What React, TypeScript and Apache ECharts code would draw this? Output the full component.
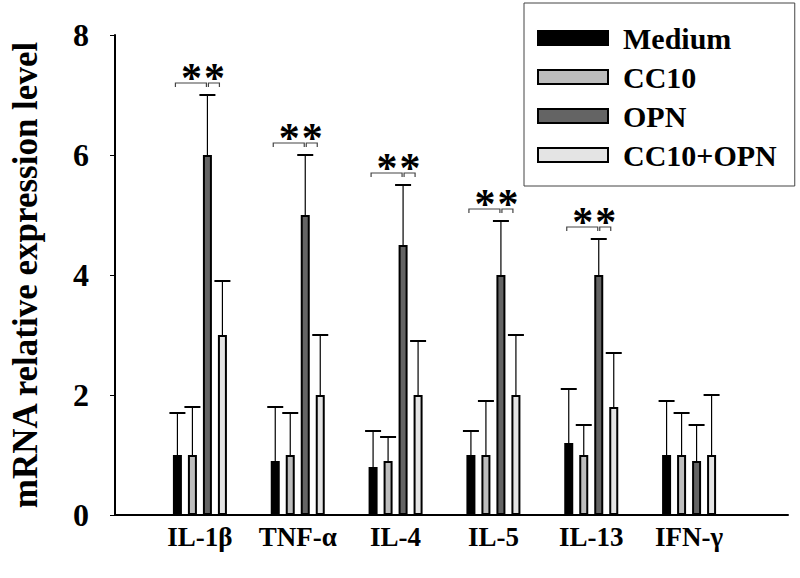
import React, { useEffect, useRef } from "react";
import * as echarts from "echarts";

const categories = ["IL-1β", "TNF-α", "IL-4", "IL-5", "IL-13", "IFN-γ"];
const seriesNames = ["Medium", "CC10", "OPN", "CC10+OPN"];
const seriesColors = ["#000000", "#bdbdbd", "#646464", "#e4e4e4"];

const medium = [1.0, 0.9, 0.8, 1.0, 1.2, 1.0];
const mediumErr = [1.7, 1.8, 1.4, 1.4, 2.1, 1.9];
const cc10 = [1.0, 1.0, 0.9, 1.0, 1.0, 1.0];
const cc10Err = [1.8, 1.7, 1.3, 1.9, 1.5, 1.7];
const opn = [6.0, 5.0, 4.5, 4.0, 4.0, 0.9];
const opnErr = [7.0, 6.0, 5.5, 4.9, 4.6, 1.5];
const combo = [3.0, 2.0, 2.0, 2.0, 1.8, 1.0];
const comboErr = [3.9, 3.0, 2.9, 3.0, 2.7, 2.0];

// significance bracket heights (value units) per category; null = none
const sigLevel: (number | null)[] = [7.2, 6.2, 5.7, 5.1, 4.8, null];

const yMin = 0;
const yMax = 8;
const yInterval = 2;

const BAR_W = 9;
const PITCH = 15;
const offsetOf = (s: number) => (s - 1.5) * PITCH;

const FONT = "'Liberation Serif', 'Times New Roman', serif";

export default function App() {
  const ref = useRef<HTMLDivElement>(null);

  useEffect(() => {
    if (!ref.current) return;
    const chart = echarts.init(ref.current, undefined, { renderer: "svg" });

    const values = [medium, cc10, opn, combo];
    const errs = [mediumErr, cc10Err, opnErr, comboErr];

    const errData: number[][] = [];
    values.forEach((arr, s) => {
      arr.forEach((v, i) => errData.push([i, v, errs[s][i], s]));
    });

    const sigData: number[][] = [];
    sigLevel.forEach((lv, i) => {
      if (lv !== null) sigData.push([i, lv]);
    });

    const barSeries = seriesNames.map((name, s) => ({
      name,
      type: "bar",
      xAxisIndex: 1,
      yAxisIndex: 1,
      data: values[s],
      barWidth: BAR_W,
      barGap: "66.67%",
      z: 3,
      itemStyle: {
        color: seriesColors[s],
        borderColor: "#000",
        borderWidth: 2,
      },
    }));

    const starStyle = {
      text: "*",
      fontFamily: FONT,
      fontWeight: "bold",
      fontSize: 42,
      fill: "#000",
      align: "center",
      verticalAlign: "middle",
    };

    const option: any = {
      animation: false,
      backgroundColor: "#fff",
      grid: [
        { left: 104, right: 12, top: 35, bottom: 63 },
        { left: 151, right: 62, top: 35, bottom: 63 },
      ],
      legend: {
        data: seriesNames,
        orient: "vertical",
        left: 524,
        top: 3,
        icon: "rect",
        itemWidth: 70,
        itemHeight: 14,
        itemGap: 9,
        padding: [20, 18, 16, 13],
        backgroundColor: "#fff",
        borderColor: "#444",
        borderWidth: 1,
        borderRadius: 0,
        textStyle: {
          fontFamily: FONT,
          fontWeight: "bold",
          fontSize: 30,
          lineHeight: 28,
          color: "#000",
          padding: [0, 0, 0, 10],
        },
      },
      xAxis: [
        {
          type: "category",
          gridIndex: 0,
          data: [""],
          axisLine: { show: true, lineStyle: { color: "#000", width: 2 } },
          axisTick: { show: false },
          axisLabel: { show: false },
        },
        {
          type: "category",
          gridIndex: 1,
          data: categories,
          axisLine: { show: false },
          axisTick: { show: false },
          axisLabel: {
            interval: 0,
            hideOverlap: false,
            margin: 8,
            fontFamily: FONT,
            fontWeight: "bold",
            fontSize: 27,
            color: "#000",
          },
        },
      ],
      yAxis: [
        {
          type: "value",
          gridIndex: 0,
          min: yMin,
          max: yMax,
          interval: yInterval,
          name: "mRNA relative expression level",
          nameLocation: "middle",
          nameRotate: 90,
          nameGap: 72,
          nameTextStyle: {
            fontFamily: FONT,
            fontWeight: "bold",
            fontSize: 35,
            color: "#000",
          },
          axisLine: { show: true, lineStyle: { color: "#000", width: 2 } },
          axisTick: { show: true, length: 5, lineStyle: { color: "#000", width: 1 } },
          splitLine: { show: false },
          axisLabel: {
            margin: 26,
            fontFamily: FONT,
            fontWeight: "bold",
            fontSize: 32,
            color: "#000",
          },
        },
        {
          type: "value",
          gridIndex: 1,
          min: yMin,
          max: yMax,
          interval: yInterval,
          show: false,
          splitLine: { show: false },
        },
      ],
      series: [
        ...barSeries,
        {
          type: "custom",
          xAxisIndex: 1,
          yAxisIndex: 1,
          z: 2,
          silent: true,
          data: errData,
          renderItem: (params: any, api: any) => {
            const i = api.value(0);
            const s = api.value(3);
            const base = api.coord([i, api.value(1)]);
            const top = api.coord([i, api.value(2)]);
            const x = base[0] + offsetOf(s);
            return {
              type: "group",
              children: [
                {
                  type: "line",
                  shape: { x1: x, y1: base[1], x2: x, y2: top[1] },
                  style: { stroke: "#000", lineWidth: 1.2 },
                },
                {
                  type: "line",
                  shape: { x1: x - 8, y1: top[1], x2: x + 8, y2: top[1] },
                  style: { stroke: "#000", lineWidth: 2 },
                },
              ],
            };
          },
        },
        {
          type: "custom",
          xAxisIndex: 1,
          yAxisIndex: 1,
          z: 4,
          silent: true,
          data: sigData,
          renderItem: (params: any, api: any) => {
            const c = api.coord([api.value(0), api.value(1)]);
            const y = c[1];
            const x0 = c[0] + offsetOf(0) - 2;
            const xm = c[0] + offsetOf(2);
            const x3 = c[0] + offsetOf(3) - 3;
            const stroke = { stroke: "#444", lineWidth: 1.2, fill: null };
            return {
              type: "group",
              children: [
                {
                  type: "polyline",
                  shape: { points: [[x0, y + 4], [x0, y], [xm - 1, y], [xm - 1, y + 4]] },
                  style: stroke,
                },
                {
                  type: "polyline",
                  shape: { points: [[xm + 1, y + 4], [xm + 1, y], [x3, y], [x3, y + 4]] },
                  style: stroke,
                },
                {
                  type: "text",
                  x: (x0 + xm) / 2,
                  y: y - 5,
                  style: starStyle,
                },
                {
                  type: "text",
                  x: (xm + x3) / 2 + 1,
                  y: y - 5,
                  style: starStyle,
                },
              ],
            };
          },
        },
      ],
    };

    chart.setOption(option);
    return () => chart.dispose();
  }, []);

  return (
    <div
      ref={ref}
      style={{ position: "fixed", left: 0, top: 0, width: 800, height: 578, background: "#fff" }}
    />
  );
}
